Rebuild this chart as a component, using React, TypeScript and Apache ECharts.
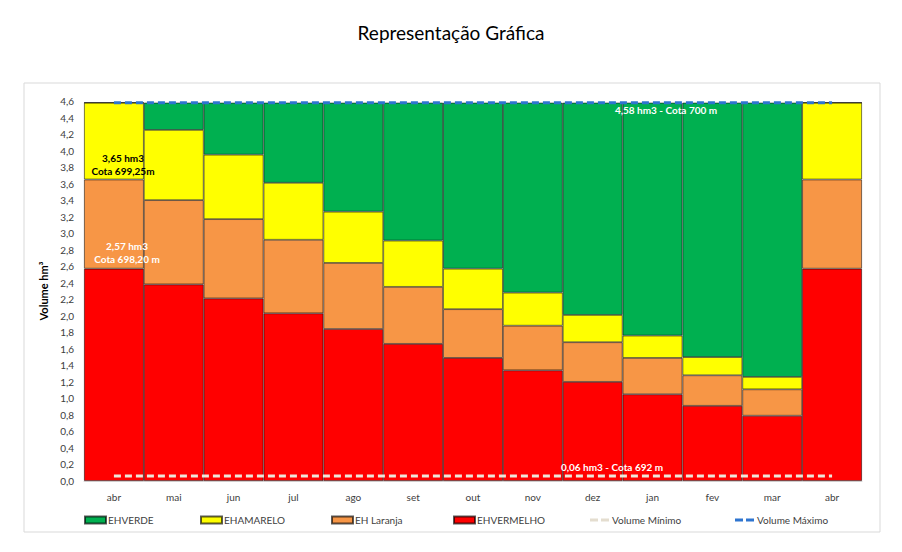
import React, { useEffect, useRef } from "react";
import * as echarts from "echarts";

const categories = ["abr", "mai", "jun", "jul", "ago", "set", "out", "nov", "dez", "jan", "fev", "mar", "abr"];
// cumulative level of the top of each band (hm3)
const redTop = [2.57, 2.38, 2.21, 2.03, 1.84, 1.66, 1.49, 1.34, 1.2, 1.05, 0.91, 0.79, 2.57];
const orangeTop = [3.65, 3.4, 3.17, 2.92, 2.64, 2.35, 2.08, 1.88, 1.68, 1.49, 1.28, 1.11, 3.65];
const yellowTop = [4.58, 4.25, 3.95, 3.61, 3.26, 2.91, 2.57, 2.28, 2.01, 1.76, 1.5, 1.26, 4.58];
const maxVolume = 4.58;
const minVolume = 0.06;

const r2 = (v: number) => Math.round(v * 100) / 100;
const redVals = redTop.slice();
const orangeVals = orangeTop.map((v, i) => r2(v - redTop[i]));
const yellowVals = yellowTop.map((v, i) => r2(v - orangeTop[i]));
const greenVals = yellowTop.map((v) => r2(maxVolume - v));

const FONT = "Lato, 'Noto Sans', sans-serif";
const DASH_ICON = "path://M0,0h8v3h-8z M11,0h8v3h-8z";

export default function App() {
  const ref = useRef<HTMLDivElement>(null);
  useEffect(() => {
    document.body.style.margin = "0";
    const chart = echarts.init(ref.current!, null, { renderer: "svg" });
    const border = { borderColor: "rgba(0,0,0,0.65)", borderWidth: 0.8 };
    const barBase = { type: "bar", stack: "v", barCategoryGap: "0%", z: 2 };
    const legendCommon = {
      top: 515,
      padding: 0,
      itemWidth: 21,
      itemHeight: 7,
      itemGap: 2,
      textStyle: { fontSize: 10, color: "#404040", fontFamily: FONT, padding: [0, 0, 0, -3] },
    };
    chart.setOption({
      animation: false,
      textStyle: { fontFamily: FONT },
      title: {
        text: "Representação Gráfica",
        left: "center",
        top: 18,
        textStyle: { fontSize: 19, fontWeight: "normal", color: "#000", fontFamily: FONT },
      },
      grid: { left: 84, right: 40, top: 101, bottom: 71 },
      xAxis: {
        type: "category",
        data: categories,
        axisTick: { show: false },
        axisLine: { show: true, lineStyle: { color: "#d9d9d9" } },
        axisLabel: { fontSize: 10, color: "#404040", margin: 11 },
      },
      yAxis: {
        type: "value",
        min: 0,
        max: 4.6,
        interval: 0.2,
        splitLine: { show: false },
        axisLine: { show: false },
        axisTick: { show: false },
        axisLabel: {
          fontSize: 10,
          color: "#404040",
          margin: 10,
          formatter: (v: number) => v.toFixed(1).replace(".", ","),
        },
        name: "Volume hm³",
        nameLocation: "middle",
        nameGap: 35,
        nameTextStyle: { fontSize: 11, fontWeight: "bold", color: "#000" },
      },
      legend: [
        { ...legendCommon, left: 84, data: [{ name: "EHVERDE", icon: "rect" }] },
        { ...legendCommon, left: 200, data: [{ name: "EHAMARELO", icon: "rect" }] },
        { ...legendCommon, left: 331, data: [{ name: "EH Laranja", icon: "rect" }] },
        { ...legendCommon, left: 453, data: [{ name: "EHVERMELHO", icon: "rect" }] },
        { ...legendCommon, left: 590, itemHeight: 3, data: [{ name: "Volume Mínimo", icon: DASH_ICON }] },
        { ...legendCommon, left: 735, itemHeight: 3, data: [{ name: "Volume Máximo", icon: DASH_ICON }] },
      ],
      series: [
        { ...barBase, name: "EHVERMELHO", data: redVals, itemStyle: { color: "#FF0000", ...border } },
        { ...barBase, name: "EH Laranja", data: orangeVals, itemStyle: { color: "#F79646", ...border } },
        { ...barBase, name: "EHAMARELO", data: yellowVals, itemStyle: { color: "#FFFF00", ...border } },
        { ...barBase, name: "EHVERDE", data: greenVals, itemStyle: { color: "#00B050", ...border } },
        {
          type: "line",
          name: "Volume Mínimo",
          data: categories.map(() => minVolume),
          symbol: "none",
          z: 5,
          lineStyle: { color: "#EEE7DA", width: 3, type: [7, 4] },
          itemStyle: { color: "#E4DDCF" },
        },
        {
          type: "line",
          name: "Volume Máximo",
          data: categories.map(() => maxVolume),
          symbol: "none",
          z: 5,
          lineStyle: { color: "#2E75D0", width: 3, type: [7, 4] },
          itemStyle: { color: "#2E75D0" },
        },
      ],
      graphic: [
        {
          type: "rect",
          shape: { x: 24, y: 83, width: 856, height: 449 },
          style: { fill: "none", stroke: "#d9d9d9", lineWidth: 1 },
          z: -1,
        },
        {
          type: "text",
          x: 123,
          y: 164,
          style: {
            text: "3,65 hm3\nCota 699,25m",
            fill: "#000",
            font: `bold 10px ${FONT}`,
            align: "center",
            verticalAlign: "middle",
            lineHeight: 13,
          },
          z: 10,
        },
        {
          type: "text",
          x: 127,
          y: 252,
          style: {
            text: "2,57 hm3\nCota 698,20 m",
            fill: "#fff",
            font: `bold 10px ${FONT}`,
            align: "center",
            verticalAlign: "middle",
            lineHeight: 13,
          },
          z: 10,
        },
        {
          type: "text",
          x: 666,
          y: 110,
          style: {
            text: "4,58 hm3 - Cota 700 m",
            fill: "#fff",
            font: `bold 10px ${FONT}`,
            align: "center",
            verticalAlign: "middle",
          },
          z: 10,
        },
        {
          type: "text",
          x: 612,
          y: 467,
          style: {
            text: "0,06 hm3 - Cota 692 m",
            fill: "#fff",
            font: `bold 10px ${FONT}`,
            align: "center",
            verticalAlign: "middle",
          },
          z: 10,
        },
      ],
    });
    return () => chart.dispose();
  }, []);
  return <div ref={ref} style={{ width: 902, height: 552 }} />;
}
